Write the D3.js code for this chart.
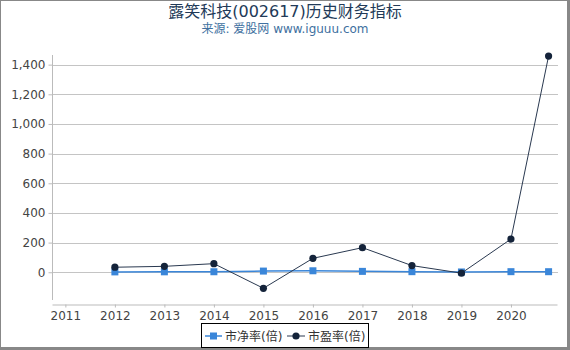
<!DOCTYPE html>
<html>
<head>
<meta charset="utf-8">
<script src="https://cdn.jsdelivr.net/npm/d3@7"></script>
<style>
  html, body { margin: 0; padding: 0; background: #fff; }
  svg { display: block; font-family: "DejaVu Sans", "Noto Sans CJK SC", sans-serif; }
</style>
</head>
<body>
<svg id="chart" width="570" height="350"></svg>
<script>
const titleText = "露笑科技(002617)历史财务指标";
const subtitleText = "来源: 爱股网 www.iguuu.com";
const xPositions = [2012, 2013, 2014, 2015, 2016, 2017, 2018, 2019, 2020, 2020.76];
const pbValues = [2.5, 3, 3.5, 8, 10, 6, 4, 2, 4, 3.8];
const peValues = [34, 40, 58, -108, 94, 166, 45, -6, 224, 1458];
const xTickValues = [2011, 2012, 2013, 2014, 2015, 2016, 2017, 2018, 2019, 2020];
const yTickValues = [0, 200, 400, 600, 800, 1000, 1200, 1400];
const seriesNames = ["市净率(倍)", "市盈率(倍)"];

const W = 570, H = 350;
const svg = d3.select("#chart");

const x = d3.scaleLinear().domain([2010.73, 2020.93]).range([52, 557]);
const y = d3.scaleLinear().domain([-214, 1465]).range([304, 55]);

// outer frame
svg.append("rect").attr("x", 0.5).attr("y", 0.5).attr("width", 567).attr("height", 347)
  .attr("fill", "none").attr("stroke", "#888").attr("stroke-width", 1);
svg.append("line").attr("x1", 568.5).attr("x2", 568.5).attr("y1", 0).attr("y2", 350).attr("stroke", "#888").attr("stroke-width", 3);
svg.append("line").attr("x1", 0).attr("x2", 570).attr("y1", 348.5).attr("y2", 348.5).attr("stroke", "#888").attr("stroke-width", 3);

// title
svg.append("text").attr("x", 285).attr("y", 17).attr("text-anchor", "middle")
  .attr("font-size", 16).attr("fill", "#223a58").text(titleText);
svg.append("text").attr("x", 285).attr("y", 33).attr("text-anchor", "middle")
  .attr("font-size", 12).attr("fill", "#4070a0").text(subtitleText);

// grid
svg.append("g").selectAll("line").data(yTickValues).join("line")
  .attr("x1", 52).attr("x2", 558)
  .attr("y1", d => Math.round(y(d)) + 0.5).attr("y2", d => Math.round(y(d)) + 0.5)
  .attr("stroke", "#c4c4c4").attr("stroke-width", 1);

// y axis
const yAxis = d3.axisLeft(y).tickValues(yTickValues).tickSize(4).tickSizeOuter(0).tickFormat(d3.format(","));
const gy = svg.append("g").attr("transform", "translate(52.5,0)").call(yAxis);
gy.select(".domain").remove();
gy.selectAll(".tick line").attr("stroke", "#bbb");
gy.selectAll(".tick text").attr("font-size", 12).attr("fill", "#444").attr("x", -7)
  .attr("font-family", "DejaVu Sans, sans-serif");
svg.append("line").attr("x1", 52.5).attr("x2", 52.5).attr("y1", 55).attr("y2", 300)
  .attr("stroke", "#bbb");

// x axis
const xAxis = d3.axisBottom(x).tickValues(xTickValues).tickSize(3).tickSizeOuter(0).tickFormat(d3.format("d"));
const gx = svg.append("g").attr("transform", "translate(0,304.5)").call(xAxis);
gx.select(".domain").attr("stroke", "#bbb");
gx.selectAll(".tick line").attr("stroke", "#bbb");
gx.selectAll(".tick text").attr("font-size", 12).attr("fill", "#444").attr("y", 7)
  .attr("font-family", "DejaVu Sans, sans-serif");

const pbData = xPositions.map((d, i) => ({x: d, v: pbValues[i]}));
const peData = xPositions.map((d, i) => ({x: d, v: peValues[i]}));
const line = d3.line().x(d => x(d.x)).y(d => y(d.v));

const pbColor = "#3a86d9";
const peColor = "#14233a";

// PB series
svg.append("path").datum(pbData).attr("d", line).attr("fill", "none")
  .attr("stroke", pbColor).attr("stroke-width", 1.5);
svg.append("g").selectAll("rect").data(pbData).join("rect")
  .attr("x", d => x(d.x) - 3.5).attr("y", d => y(d.v) - 3.5)
  .attr("width", 7).attr("height", 7).attr("fill", pbColor);

// PE series
svg.append("path").datum(peData).attr("d", line).attr("fill", "none")
  .attr("stroke", "#2a3950").attr("stroke-width", 1);
svg.append("g").selectAll("circle").data(peData).join("circle")
  .attr("cx", d => x(d.x)).attr("cy", d => y(d.v)).attr("r", 3.6).attr("fill", peColor);

// legend
const lg = svg.append("g");
lg.append("rect").attr("x", 201.5).attr("y", 323.5).attr("width", 167).attr("height", 24)
  .attr("fill", "#fff").attr("stroke", "#000").attr("stroke-width", 1);
lg.append("line").attr("x1", 205).attr("x2", 222).attr("y1", 336).attr("y2", 336).attr("stroke", pbColor).attr("stroke-width", 1.5);
lg.append("rect").attr("x", 210).attr("y", 332.5).attr("width", 7).attr("height", 7).attr("fill", pbColor);
lg.append("text").attr("x", 225).attr("y", 340.5).attr("font-size", 12).attr("fill", "#333").text(seriesNames[0]);
lg.append("line").attr("x1", 287).attr("x2", 305).attr("y1", 336).attr("y2", 336).attr("stroke", "#2a3950").attr("stroke-width", 1);
lg.append("circle").attr("cx", 296).attr("cy", 336).attr("r", 3.6).attr("fill", peColor);
lg.append("text").attr("x", 308).attr("y", 340.5).attr("font-size", 12).attr("fill", "#333").text(seriesNames[1]);
</script>
</body>
</html>
